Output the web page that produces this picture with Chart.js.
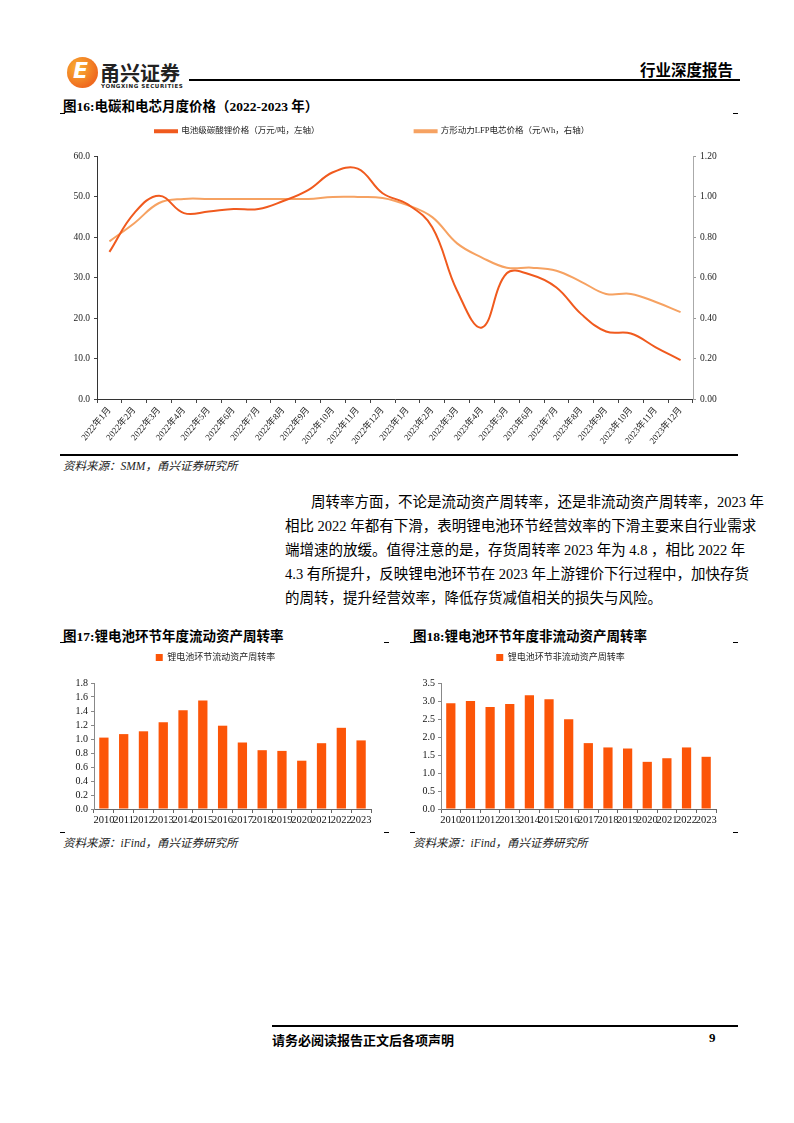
<!DOCTYPE html>
<html>
<head>
<meta charset="utf-8">
<script src="https://cdn.jsdelivr.net/npm/chart.js@4.4.1/dist/chart.umd.min.js"></script>
<style>
  body { margin: 0; width: 794px; height: 1123px; background: #fff; position: relative; overflow: hidden;
         font-family: "Liberation Serif", "Noto Sans CJK SC", serif; color: #000; }
  .abs { position: absolute; }
  .title { font-weight: bold; font-size: 13.5px; white-space: nowrap; }
  .src { font-style: italic; font-size: 11.5px; color: #222; white-space: nowrap; }
  .hline { position: absolute; background: #000; }
  .para { position: absolute; left: 285px; width: 453px; font-size: 14.5px; white-space: nowrap;
          text-align: justify; text-align-last: justify; line-height: 20px; }
  canvas { position: absolute; }
</style>
</head>
<body>

<!-- header -->
<div class="abs" style="left:67px;top:57px;width:31px;height:31px;border-radius:50%;background:radial-gradient(circle at 35% 35%,#f9b233,#ef6a1f 70%);"></div>
<div class="abs" style="left:73px;top:58px;font:bold italic 22px 'DejaVu Sans';color:#fff;">E</div>
<div class="abs" style="left:100px;top:58px;font:bold 20px 'Noto Sans CJK SC';color:#222;">甬兴证券</div>
<div class="abs" style="left:101px;top:83px;font:bold 5.5px 'DejaVu Sans';color:#222;letter-spacing:0.6px;">YONGXING SECURITIES</div>
<div class="hline" style="left:189px;top:79px;width:551px;height:2px;"></div>
<div class="abs title" style="left:640px;top:58px;font-size:15.5px;">行业深度报告</div>

<!-- figure 16 -->
<div class="abs title" style="left:63px;top:95px;">图16:电碳和电芯月度价格（2022-2023 年）</div>
<div class="hline" style="left:60px;top:113px;width:5px;height:1px;"></div>
<div class="hline" style="left:733px;top:113px;width:5px;height:1px;"></div>
<canvas id="priceChart" width="690" height="416" style="left:60px;top:32px;"></canvas>
<div class="hline" style="left:60px;top:454px;width:678px;height:1.5px;"></div>
<div class="abs src" style="left:63px;top:457px;">资料来源：SMM，甬兴证券研究所</div>

<!-- paragraph -->
<div class="para" style="top:492px;left:311px;width:427px;">周转率方面，不论是流动资产周转率，还是非流动资产周转率，2023 年</div>
<div class="para" style="top:516px;">相比 2022 年都有下滑，表明锂电池环节经营效率的下滑主要来自行业需求</div>
<div class="para" style="top:540px;">端增速的放缓。值得注意的是，存货周转率 2023 年为 4.8 ，相比 2022 年</div>
<div class="para" style="top:564px;">4.3 有所提升，反映锂电池环节在 2023 年上游锂价下行过程中，加快存货</div>
<div class="para" style="top:588px;text-align-last:left;">的周转，提升经营效率，降低存货减值相关的损失与风险。</div>

<!-- figure 17 / 18 -->
<div class="abs title" style="left:63px;top:625px;">图17:锂电池环节年度流动资产周转率</div>
<div class="abs title" style="left:413px;top:625px;">图18:锂电池环节年度非流动资产周转率</div>
<div class="hline" style="left:60px;top:642px;width:5px;height:1px;"></div>
<div class="hline" style="left:384px;top:642px;width:5px;height:1px;"></div>
<div class="hline" style="left:410px;top:642px;width:5px;height:1px;"></div>
<div class="hline" style="left:733px;top:642px;width:5px;height:1px;"></div>
<canvas id="currentChart" width="320" height="188" style="left:60px;top:643px;"></canvas>
<canvas id="nonCurrentChart" width="320" height="188" style="left:405px;top:643px;"></canvas>
<div class="hline" style="left:60px;top:832px;width:5px;height:1px;"></div>
<div class="hline" style="left:384px;top:832px;width:5px;height:1px;"></div>
<div class="hline" style="left:410px;top:832px;width:5px;height:1px;"></div>
<div class="hline" style="left:733px;top:832px;width:5px;height:1px;"></div>
<div class="abs src" style="left:63px;top:834px;">资料来源：iFind，甬兴证券研究所</div>
<div class="abs src" style="left:413px;top:834px;">资料来源：iFind，甬兴证券研究所</div>

<!-- footer -->
<div class="hline" style="left:272px;top:1025px;width:466px;height:1.5px;"></div>
<div class="abs title" style="left:272px;top:1030px;font-size:13px;">请务必阅读报告正文后各项声明</div>
<div class="abs title" style="left:709px;top:1030px;font-size:13px;">9</div>

<script>
// months for figure 16
const months = [
  '2022年1月', '2022年2月', '2022年3月', '2022年4月', '2022年5月', '2022年6月',
  '2022年7月', '2022年8月', '2022年9月', '2022年10月', '2022年11月', '2022年12月',
  '2023年1月', '2023年2月', '2023年3月', '2023年4月', '2023年5月', '2023年6月',
  '2023年7月', '2023年8月', '2023年9月', '2023年10月', '2023年11月', '2023年12月'
];
// battery-grade lithium carbonate, 万元/吨 (left axis)
const lithiumPrice = [36.4, 46.0, 50.3, 46.0, 46.4, 47.0, 47.0, 49.0, 51.7, 56.1, 57.0, 50.9,
                      48.2, 42.5, 26.8, 17.7, 31.1, 30.7, 27.6, 21.0, 16.7, 16.2, 12.8, 9.6];
// prismatic LFP cell, 元/Wh (right axis)
const cellPrice = [0.78, 0.87, 0.97, 0.99, 0.99, 0.99, 0.99, 0.99, 0.99, 1.00, 1.00, 0.995,
                   0.96, 0.90, 0.77, 0.70, 0.65, 0.65, 0.635, 0.58, 0.52, 0.52, 0.48, 0.43];

// annual turnover, figures 17 and 18
const years = ['2010', '2011', '2012', '2013', '2014', '2015', '2016',
               '2017', '2018', '2019', '2020', '2021', '2022', '2023'];
const currentTurnover = [1.02, 1.07, 1.11, 1.24, 1.41, 1.55, 1.19, 0.95, 0.84, 0.83, 0.69, 0.94, 1.16, 0.98];
const nonCurrentTurnover = [2.94, 3.00, 2.83, 2.92, 3.16, 3.05, 2.49, 1.83, 1.71, 1.68, 1.31, 1.41, 1.71, 1.45];

const FONT = '"Liberation Serif", "Noto Sans CJK SC", serif';
const DARK = '#f05a1e';
const LIGHT = '#f6a262';
const BAR = '#fc5508';

// adds extra space under the legend
const legendGap = (px) => ({
  id: 'legendGap',
  beforeInit(chart) {
    const fit = chart.legend.fit;
    chart.legend.fit = function () {
      fit.bind(chart.legend)();
      this.height += px;
    };
  },
});

new Chart(document.getElementById('priceChart'), {
  type: 'line',
  data: {
    labels: months,
    datasets: [
      {
        label: '电池级碳酸锂价格（万元/吨，左轴）',
        data: lithiumPrice,
        borderColor: DARK,
        backgroundColor: DARK,
        borderWidth: 2,
        pointRadius: 0,
        tension: 0.4,
        yAxisID: 'y',
      },
      {
        label: '方形动力LFP电芯价格（元/Wh，右轴）',
        data: cellPrice,
        borderColor: LIGHT,
        backgroundColor: LIGHT,
        borderWidth: 2,
        pointRadius: 0,
        tension: 0.4,
        yAxisID: 'y1',
      },
    ],
  },
  plugins: [legendGap(11)],
  options: {
    responsive: false,
    animation: false,
    plugins: {
      legend: {
        position: 'top',
        align: 'start',
        labels: {
          boxWidth: 22,
          boxHeight: 2,
          padding: 95,
          color: '#222',
          font: { family: FONT, size: 8.5 },
        },
      },
      tooltip: { enabled: false },
    },
    scales: {
      x: {
        offset: true,
        afterFit: (s) => { s.height = 49; },
        grid: { offset: true, drawOnChartArea: false, tickLength: 4, color: '#444' },
        border: { color: '#333', width: 1 },
        ticks: {
          autoSkip: false,
          maxRotation: 50,
          minRotation: 50,
          padding: 2,
          color: '#222',
          font: { family: FONT, size: 9 },
        },
      },
      y: {
        position: 'left',
        min: 0,
        max: 60,
        afterFit: (s) => { s.width = 37; },
        grid: { drawOnChartArea: false, tickLength: 3, color: '#444' },
        border: { color: '#333', width: 1 },
        ticks: {
          stepSize: 10,
          padding: 4,
          color: '#222',
          font: { family: FONT, size: 9.5 },
          callback: (v) => v.toFixed(1),
        },
      },
      y1: {
        position: 'right',
        min: 0,
        max: 1.2,
        afterFit: (s) => { s.width = 57; },
        grid: { drawOnChartArea: false, tickLength: 3, color: '#999' },
        border: { color: '#aaa', width: 1 },
        ticks: {
          stepSize: 0.2,
          padding: 4,
          color: '#222',
          font: { family: FONT, size: 9.5 },
          callback: (v) => v.toFixed(2),
        },
      },
    },
  },
});

function barChart(id, label, values, max, step, yWidth) {
  return new Chart(document.getElementById(id), {
    type: 'bar',
    data: {
      labels: years,
      datasets: [{
        label: label,
        data: values,
        backgroundColor: BAR,
        barPercentage: 0.47,
        categoryPercentage: 1,
      }],
    },
    plugins: [legendGap(11)],
    options: {
      responsive: false,
      animation: false,
      layout: { padding: { right: 9 } },
      plugins: {
        legend: {
          position: 'top',
          labels: {
            boxWidth: 7,
            boxHeight: 7,
            padding: 10,
            color: '#222',
            font: { family: FONT, size: 9 },
          },
        },
        tooltip: { enabled: false },
      },
      scales: {
        x: {
          afterFit: (s) => { s.height = 22; },
          grid: { drawOnChartArea: false, tickLength: 4, color: '#666' },
          border: { color: '#666', width: 1 },
          ticks: {
            autoSkip: false,
            maxRotation: 0,
            padding: 1,
            color: '#111',
            font: { family: FONT, size: 10.5 },
          },
        },
        y: {
          min: 0,
          max: max,
          afterFit: (s) => { s.width = yWidth; },
          grid: { drawOnChartArea: false, tickLength: 3, color: '#888' },
          border: { color: '#888', width: 1 },
          ticks: {
            autoSkip: false,
            stepSize: step,
            padding: 3,
            color: '#111',
            font: { family: FONT, size: 10 },
            callback: (v) => v.toFixed(1),
          },
        },
      },
    },
  });
}

barChart('currentChart', '锂电池环节流动资产周转率', currentTurnover, 1.8, 0.2, 34);
barChart('nonCurrentChart', '锂电池环节非流动资产周转率', nonCurrentTurnover, 3.5, 0.5, 36);
</script>
</body>
</html>
